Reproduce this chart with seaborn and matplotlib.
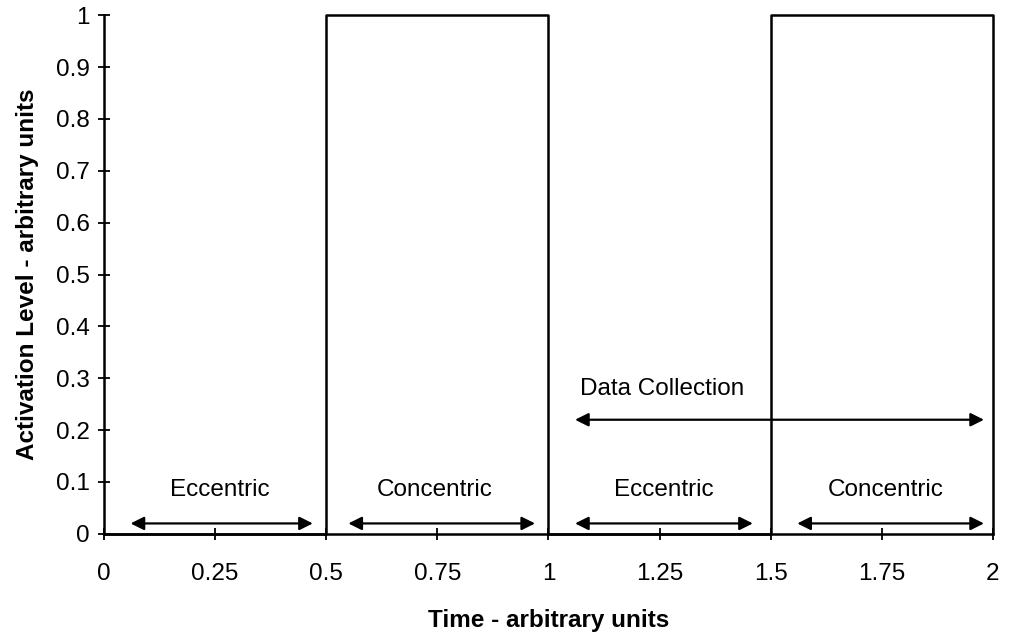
import matplotlib
matplotlib.use("Agg")
import matplotlib.pyplot as plt
import seaborn as sns
import pandas as pd

# square-wave activation profile
time_pts = [0, 0.5, 0.5, 1, 1, 1.5, 1.5, 2, 2]
activation = [0, 0, 1, 1, 0, 0, 1, 1, 0]

x_ticks = [0, 0.25, 0.5, 0.75, 1, 1.25, 1.5, 1.75, 2]
x_labels = ["0", "0.25", "0.5", "0.75", "1", "1.25", "1.5", "1.75", "2"]
y_ticks = [0, 0.1, 0.2, 0.3, 0.4, 0.5, 0.6, 0.7, 0.8, 0.9, 1]
y_labels = ["0", "0.1", "0.2", "0.3", "0.4", "0.5", "0.6", "0.7", "0.8", "0.9", "1"]

# phase annotations: label, label x, arrow start, arrow end
phase_names = ["Eccentric", "Concentric", "Eccentric", "Concentric"]
phase_text_x = [0.26, 0.745, 1.26, 1.76]
phase_start = [0.06, 0.55, 1.06, 1.56]
phase_end = [0.47, 0.97, 1.46, 1.98]

collect_name = "Data Collection"
collect_start = 1.06
collect_end = 1.98

sns.set_style("white")
plt.rcParams['font.family'] = ['Liberation Sans', 'DejaVu Sans']
plt.rcParams['text.color'] = 'black'

df = pd.DataFrame({"t": time_pts, "a": activation})

fig = plt.figure(figsize=(10.09, 6.37), dpi=100)
ax = fig.add_axes([0.103, 0.162, 0.881, 0.814])

sns.lineplot(data=df, x="t", y="a", sort=False, estimator=None,
             color="black", lw=1.8, ax=ax, clip_on=False)

ax.set_xlim(0, 2)
ax.set_ylim(0, 1)
ax.set_xticks(x_ticks)
ax.set_xticklabels(x_labels, fontsize=17.5)
ax.set_yticks(y_ticks)
ax.set_yticklabels(y_labels, fontsize=17.5)
ax.tick_params(bottom=True, left=True, direction="inout", length=8, width=1.3,
               colors="black", labelcolor="black")
ax.tick_params(axis="x", pad=17)
ax.tick_params(axis="y", pad=6)

sns.despine(ax=ax)
for s in ["left", "bottom"]:
    ax.spines[s].set_color("black")
    ax.spines[s].set_linewidth(1.8)

ax.set_xlabel("Time - arbitrary units", fontsize=17.5, fontweight="bold",
              labelpad=17, color="black")
ax.set_ylabel("Activation Level - arbitrary units", fontsize=17.5, fontweight="bold",
              labelpad=12, color="black")

arrow_kw = dict(arrowstyle="<|-|>", color="black", lw=1.6, mutation_scale=20,
                shrinkA=0, shrinkB=0)
for name, tx, x0, x1 in zip(phase_names, phase_text_x, phase_start, phase_end):
    ax.annotate("", xy=(x1, 0.02), xytext=(x0, 0.02), arrowprops=arrow_kw)
    ax.text(tx, 0.085, name, ha="center", va="center", fontsize=17.5)

ax.annotate("", xy=(collect_end, 0.22), xytext=(collect_start, 0.22), arrowprops=arrow_kw)
ax.text(1.257, 0.28, collect_name, ha="center", va="center", fontsize=17.5)

fig.savefig("out.png", dpi=100)
